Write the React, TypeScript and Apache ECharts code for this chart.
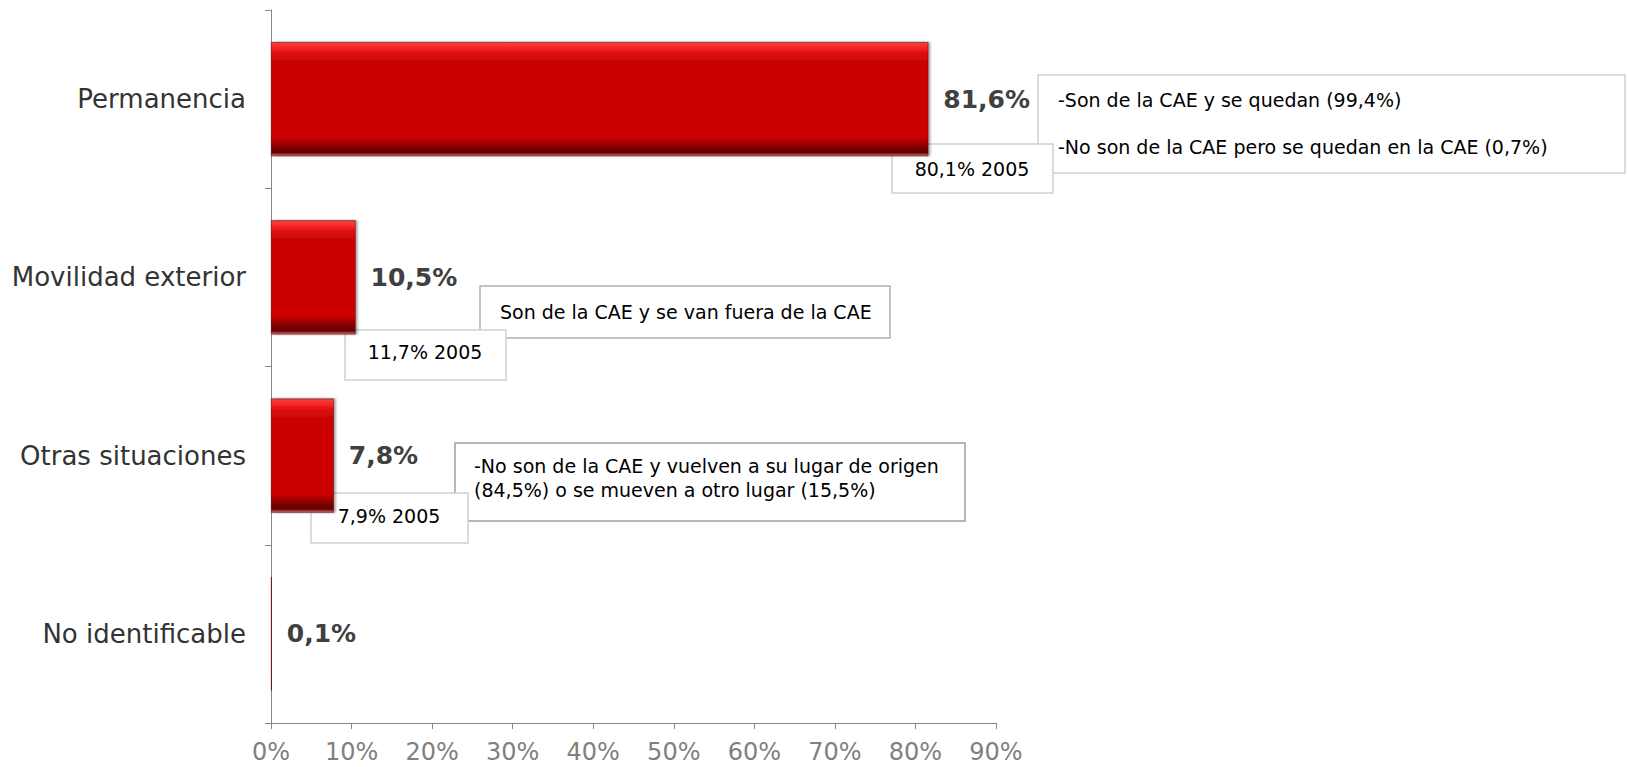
import React, { useEffect, useRef } from "react";
import * as echarts from "echarts";

const categories = ["Permanencia", "Movilidad exterior", "Otras situaciones", "No identificable"];
const values = [81.6, 10.5, 7.8, 0.1];
const xTicks = { min: 0, max: 90, interval: 10 };

const notes = [
  { lines: ["-Son de la CAE y se quedan (99,4%)", "-No son de la CAE pero se quedan en la CAE (0,7%)"] },
  { lines: ["Son de la CAE y se van fuera de la CAE"] },
  { lines: ["-No son de la CAE y vuelven a su lugar de origen", "(84,5%) o se mueven a otro lugar (15,5%)"] },
];
const prev2005 = ["80,1% 2005", "11,7% 2005", "7,9% 2005"];

const FONT = "'DejaVu Sans', Verdana, sans-serif";

function App() {
  const ref = useRef<HTMLDivElement>(null);
  useEffect(() => {
    if (!ref.current) return;
    const chart = echarts.init(ref.current, null, { renderer: "svg" });

    const box = (x: number, y: number, w: number, h: number, stroke: string) => ({
      type: "rect",
      shape: { x, y, width: w, height: h },
      style: { fill: "#fff", stroke, lineWidth: 1.5 },
    });
    const txt = (x: number, y: number, text: string, align = "left") => ({
      type: "text",
      x,
      y,
      style: {
        text,
        fill: "#000",
        font: `19px ${FONT}`,
        textAlign: align,
        textVerticalAlign: "middle",
      },
    });

    const barColor = new echarts.graphic.LinearGradient(0, 0, 0, 1, [
      { offset: 0, color: "#e04848" },
      { offset: 0.03, color: "#ff3030" },
      { offset: 0.09, color: "#e01010" },
      { offset: 0.16, color: "#cc0606" },
      { offset: 0.84, color: "#cc0606" },
      { offset: 0.91, color: "#8c0505" },
      { offset: 0.97, color: "#600000" },
      { offset: 1, color: "#d07070" },
    ]);

    chart.setOption({
      animation: false,
      grid: { left: 271, top: 10, width: 725, height: 713, containLabel: false },
      xAxis: {
        type: "value",
        min: xTicks.min,
        max: xTicks.max,
        interval: xTicks.interval,
        axisLine: { show: true, lineStyle: { color: "#868686", width: 1 } },
        axisTick: { show: true, length: 6, lineStyle: { color: "#868686" } },
        splitLine: { show: false },
        axisLabel: {
          formatter: "{value}%",
          color: "#808080",
          fontSize: 24,
          fontFamily: FONT,
          margin: 17,
        },
      },
      yAxis: {
        type: "category",
        data: categories,
        inverse: true,
        axisLine: { show: true, lineStyle: { color: "#868686", width: 1 } },
        axisTick: { show: true, length: 6, lineStyle: { color: "#868686" } },
        axisLabel: {
          color: "#333333",
          fontSize: 26,
          fontFamily: FONT,
          margin: 25,
        },
      },
      series: [
        {
          type: "bar",
          data: values,
          barWidth: "64%",
          itemStyle: {
            color: barColor,
            borderColor: "#5a0000",
            borderWidth: 0.5,
            shadowColor: "rgba(0,0,0,0.35)",
            shadowOffsetX: 2,
            shadowBlur: 2,
          },
          label: {
            show: true,
            position: "right",
            distance: 15,
            color: "#404040",
            fontWeight: "bold",
            fontSize: 25,
            fontFamily: FONT,
            formatter: (p: any) => `${Number(p.value).toFixed(1).replace(".", ",")}%`,
          },
        },
      ],
      graphic: [
        box(1038, 75, 587, 98, "#d0d0d0"),
        txt(1058, 100, notes[0].lines[0]),
        txt(1058, 147, notes[0].lines[1]),
        box(892, 144, 161, 49, "#d0d0d0"),
        txt(972, 169, prev2005[0], "center"),

        box(480, 286, 410, 52, "#b0b0b0"),
        txt(500, 312, notes[1].lines[0]),
        box(345, 330, 161, 50, "#d0d0d0"),
        txt(425, 352, prev2005[1], "center"),

        box(455, 443, 510, 78, "#a0a0a0"),
        txt(474, 466, notes[2].lines[0]),
        txt(474, 490, notes[2].lines[1]),
        box(311, 493, 157, 50, "#d0d0d0"),
        txt(389, 516, prev2005[2], "center"),
      ],
    });
    return () => chart.dispose();
  }, []);
  return (
    <div
      ref={ref}
      style={{ position: "absolute", left: 0, top: 0, width: 1627, height: 767, background: "#fff" }}
    />
  );
}

export default App;
